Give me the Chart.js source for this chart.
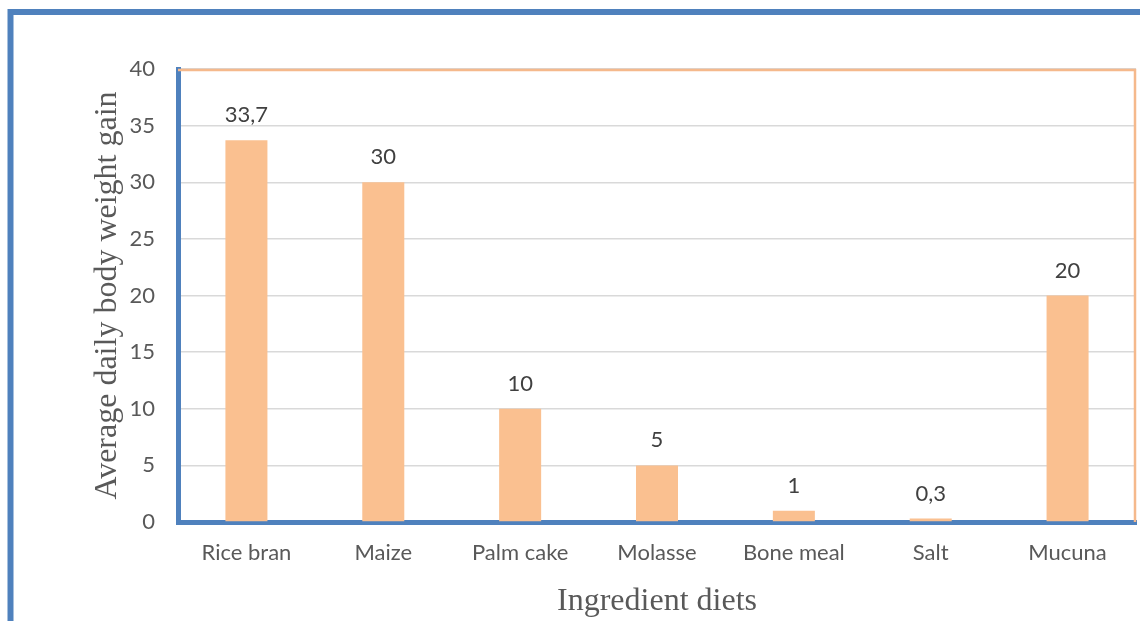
<!DOCTYPE html>
<html>
<head>
<meta charset="utf-8">
<script src="https://cdn.jsdelivr.net/npm/chart.js@4.4.1/dist/chart.umd.min.js"></script>
<style>
html, body { margin: 0; padding: 0; background: #fff; }
</style>
</head>
<body>
<canvas id="mycanvas" width="1140" height="621"></canvas>
<script>
// data
var ingredients = ['Rice bran', 'Maize', 'Palm cake', 'Molasse', 'Bone meal', 'Salt', 'Mucuna'];
var gain = [33.7, 30, 10, 5, 1, 0.3, 20];
var yMin = 0, yMax = 40, yStep = 5;

var blue = '#4f81bd';
var peach = '#fac090';
var orangeLine = '#f5b98c';

// outer frame + top/right plot border
var framePlugin = {
	id: 'frame',
	beforeDraw: function(chart)
	{
		var c = chart.ctx;
		c.save();
		c.fillStyle = '#fff';
		c.fillRect(0, 0, chart.width, chart.height);
		c.strokeStyle = blue;
		c.lineWidth = 6;
		c.beginPath();
		c.moveTo(10.5, chart.height);
		c.lineTo(10.5, 12);
		c.lineTo(chart.width, 12);
		c.stroke();
		c.restore();
	},
	beforeDatasetsDraw: function(chart)
	{
		var a = chart.chartArea;
		var c = chart.ctx;
		c.save();
		c.strokeStyle = orangeLine;
		c.lineWidth = 2.5;
		c.beginPath();
		c.moveTo(a.left, a.top + 1);
		c.lineTo(a.right - 1, a.top + 1);
		c.lineTo(a.right - 1, a.bottom);
		c.stroke();
		c.restore();
	}
};

// value labels above bars, comma decimals
var labelPlugin = {
	id: 'barLabels',
	afterDatasetsDraw: function(chart)
	{
		var c = chart.ctx;
		var meta = chart.getDatasetMeta(0);
		c.save();
		c.font = '22px Lato';
		c.fillStyle = '#404040';
		c.textAlign = 'center';
		c.textBaseline = 'middle';
		meta.data.forEach(function(bar, i)
		{
			var txt = String(gain[i]).replace('.', ',');
			c.fillText(txt, bar.x, bar.y - 25);
		});
		c.restore();
	}
};

var chartdata =
{
	labels: ingredients,
	datasets:
	[{
		label: 'Average daily body weight gain',
		backgroundColor: peach,
		borderWidth: 0,
		categoryPercentage: 1,
		barPercentage: 0.307,
		data: gain
	}]
};

var ctx = document.getElementById('mycanvas');
var barGraph = new Chart(ctx, {
	type: 'bar',
	data: chartdata,
	plugins: [framePlugin, labelPlugin],
	options: {
		responsive: false,
		animation: false,
		layout: { padding: { left: 88, top: 69, right: 4, bottom: 0 } },
		plugins: {
			legend: { display: false },
			tooltip: { enabled: false }
		},
		scales: {
			x: {
				grid: { display: false, drawTicks: false },
				border: { color: blue, width: 5 },
				ticks: { color: '#595959', font: { family: 'Lato', size: 22 }, padding: 18, maxRotation: 0 },
				title: {
					display: true,
					text: 'Ingredient diets',
					color: '#595959',
					font: { family: 'Liberation Serif', size: 32 },
					padding: { top: 7, bottom: 0 }
				},
				afterFit: function(s) { s.height = 99; }
			},
			y: {
				min: yMin,
				max: yMax,
				grid: { color: '#d9d9d9', lineWidth: 1.5, drawTicks: false },
				border: { color: blue, width: 5 },
				ticks: { stepSize: yStep, color: '#595959', font: { family: 'Lato', size: 22 }, padding: 23 },
				title: {
					display: true,
					text: 'Average daily body weight gain',
					color: '#595959',
					font: { family: 'Liberation Serif', size: 32 },
					padding: { top: 0, bottom: 0 }
				},
				afterFit: function(s) { s.width = 90; }
			}
		}
	}
});
</script>
</body>
</html>
